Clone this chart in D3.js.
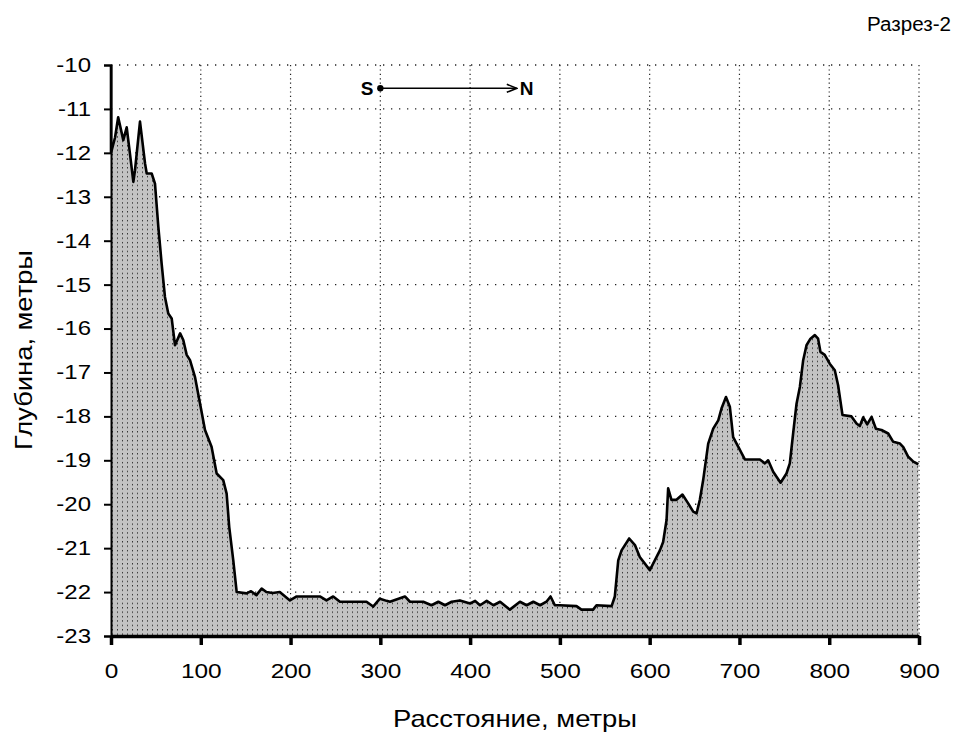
<!DOCTYPE html>
<html>
<head>
<meta charset="utf-8">
<title>Разрез-2</title>
<script src="https://cdn.jsdelivr.net/npm/d3@7"></script>
<style>
  body { margin: 0; background: #fff; }
  text { font-family: "Liberation Sans", Arial, sans-serif; }
</style>
</head>
<body>
<div id="chart"></div>
<script>
// профиль дна: [расстояние, глубина]
let southSlope = [
  [0, -10], [0, -12.0], [4.5, -11.65], [8, -11.19], [13.7, -11.71], [17.5, -11.42],
  [21, -12.0], [24.9, -12.66], [26.7, -12.4], [32.3, -11.29], [37.9, -12.24], [39.8, -12.47],
  [45.3, -12.47], [49, -12.7], [52.7, -13.68], [56.4, -14.52], [60.1, -15.28], [63.8, -15.66],
  [67.6, -15.77], [71.3, -16.38], [77, -16.11], [80.5, -16.26], [84.3, -16.6], [88, -16.72],
  [93.5, -17.1], [99.1, -17.7], [104.7, -18.31], [112, -18.69], [117.7, -19.3], [125, -19.45],
  [128.8, -19.76], [131.7, -20.52], [136.2, -21.28], [140, -22.0]
];
let flatBottom = [
  [151, -22.03], [156, -21.98], [162, -22.07], [167.8, -21.92], [173, -22.0], [180, -22.02],
  [188, -22.0], [199.3, -22.19], [206.8, -22.1], [232.7, -22.1], [240, -22.19], [247.5, -22.1],
  [255, -22.22], [284.6, -22.22], [292, -22.33], [299.5, -22.15], [307, -22.2], [310.7, -22.22],
  [327.4, -22.1], [333, -22.22], [347.8, -22.22], [357, -22.3], [364.6, -22.22], [372, -22.3],
  [379.5, -22.22], [388.6, -22.19], [400, -22.26], [405.6, -22.2], [411, -22.3], [418.5, -22.2],
  [426, -22.3], [433.4, -22.22], [440.6, -22.34], [444.3, -22.4], [455.5, -22.22], [463, -22.3],
  [470.4, -22.22], [478, -22.3], [485, -22.22], [489.6, -22.1], [494.4, -22.3], [500, -22.3],
  [518.5, -22.32], [524, -22.4], [537, -22.4], [540.8, -22.3], [557.6, -22.32]
];
let northRidge = [
  [561.2, -22.1], [565, -21.28], [568.7, -21.05], [577.2, -20.78], [583.6, -20.93], [589, -21.2],
  [600.2, -21.5], [607.7, -21.2], [611.4, -21.05], [615, -20.86], [618.8, -20.36], [620.6, -19.64],
  [624.3, -19.9], [629.9, -19.9], [636.5, -19.78], [642.9, -19.98], [648.5, -20.17], [652.2, -20.21],
  [655.9, -19.9], [659.6, -19.45], [665.2, -18.62], [670.8, -18.28], [676.4, -18.09], [680, -17.82],
  [685, -17.56], [689.3, -17.78], [693, -18.47], [698.6, -18.69], [706, -18.98], [722.7, -18.98],
  [728.3, -19.07], [732, -19.0], [737.6, -19.26], [745.8, -19.51], [752.4, -19.3], [756.1, -19.07],
  [759.8, -18.39], [763.6, -17.71], [767.3, -17.33], [771, -16.72], [774.7, -16.38], [779.1, -16.23],
  [784, -16.15], [787.6, -16.23], [790.2, -16.53], [795, -16.6], [800.6, -16.8], [806.2, -16.95],
  [809.9, -17.29], [814.8, -17.97], [824.8, -18.0], [830.4, -18.16], [834.1, -18.22], [837.9, -18.02],
  [842.3, -18.18], [847.2, -18.01], [852, -18.28], [858.2, -18.31], [865.7, -18.39], [871.3, -18.58],
  [878.8, -18.62], [882.5, -18.7], [888, -18.92], [893.7, -19.03], [899.3, -19.09]
];
let profile = southSlope.concat(flatBottom, northRidge);

let xTicks = [0, 100, 200, 300, 400, 500, 600, 700, 800, 900];
let yTicks = [-10, -11, -12, -13, -14, -15, -16, -17, -18, -19, -20, -21, -22, -23];
let arrowFrom = 300, arrowTo = 452, arrowDepth = -10.53;

let margin = {top: 65, right: 36, bottom: 100, left: 111};
let W = 955, H = 736;
let w = W - margin.left - margin.right;
let h = H - margin.top - margin.bottom;

// растянуть текст по ширине, как в исходной картинке
function widen(sel, k) {
  sel.each(function() {
    let L = this.getComputedTextLength();
    d3.select(this).attr("textLength", L * k).attr("lengthAdjust", "spacingAndGlyphs");
  });
}

let svg = d3.select("#chart").append("svg")
    .attr("width", W).attr("height", H);

// заливка с точками
let defs = svg.append("defs");
let pat = defs.append("pattern")
    .attr("id", "dots").attr("patternUnits", "userSpaceOnUse")
    .attr("width", 5).attr("height", 4.4);
pat.append("rect").attr("width", 5).attr("height", 4.4).attr("fill", "#c3c3c3");
pat.append("rect").attr("x", 1).attr("y", 1).attr("width", 1).attr("height", 1.2).attr("fill", "#1a1a1a");

let g = svg.append("g").attr("transform", "translate(" + margin.left + "," + margin.top + ")");

let x = d3.scaleLinear().domain([0, 900]).range([0, w]);
let y = d3.scaleLinear().domain([-10, -23]).range([0, h]);

// сетка
g.append("g").selectAll("line").data(yTicks.filter(d => d > -23)).enter().append("line")
    .attr("x1", 0).attr("x2", w)
    .attr("y1", d => y(d)).attr("y2", d => y(d))
    .attr("stroke", "#222").attr("stroke-width", 1.3)
    .attr("stroke-dasharray", "1.3,6.7");
g.append("g").selectAll("line").data(xTicks.filter(d => d > 0)).enter().append("line")
    .attr("x1", d => x(d)).attr("x2", d => x(d))
    .attr("y1", 0).attr("y2", h)
    .attr("stroke", "#222").attr("stroke-width", 1.2)
    .attr("stroke-dasharray", "1.2,3.2");

let area = d3.area().x(d => x(d[0])).y0(h).y1(d => y(d[1]));
let line = d3.line().x(d => x(d[0])).y(d => y(d[1]));

g.append("path").datum(profile).attr("d", area).attr("fill", "url(#dots)");
g.append("path").datum(profile).attr("d", line)
    .attr("fill", "none").attr("stroke", "#000").attr("stroke-width", 2.6)
    .attr("stroke-linejoin", "round");

// оси
let yAxis = g.append("g").call(d3.axisLeft(y).tickValues(yTicks).tickSize(7).tickPadding(13));
yAxis.select(".domain").attr("stroke-width", 2);
yAxis.selectAll(".tick line").attr("stroke-width", 2);
yAxis.selectAll("text").attr("font-size", 20).attr("fill", "#000")
    .attr("font-family", "'Liberation Sans', Arial, sans-serif")
    .text(d => "-" + Math.abs(d))
    .call(widen, 1.2);

let xAxis = g.append("g").attr("transform", "translate(0," + h + ")")
    .call(d3.axisBottom(x).tickValues(xTicks).tickSize(9).tickSizeOuter(0).tickPadding(19));
xAxis.select(".domain").attr("stroke-width", 3.5);
xAxis.selectAll(".tick line").attr("stroke-width", 3.5);
xAxis.selectAll("text").attr("font-size", 20).attr("fill", "#000")
    .attr("font-family", "'Liberation Sans', Arial, sans-serif")
    .call(widen, 1.22);

// подписи осей
svg.append("text").attr("x", 515).attr("y", 727)
    .attr("text-anchor", "middle").attr("font-size", 24)
    .attr("textLength", 244).attr("lengthAdjust", "spacingAndGlyphs")
    .text("Расстояние, метры");
svg.append("text")
    .attr("transform", "translate(32,350) rotate(-90)")
    .attr("text-anchor", "middle").attr("font-size", 24)
    .attr("textLength", 200).attr("lengthAdjust", "spacingAndGlyphs")
    .text("Глубина, метры");

svg.append("text").attr("x", 951).attr("y", 31)
    .attr("text-anchor", "end").attr("font-size", 20)
    .attr("textLength", 84).attr("lengthAdjust", "spacingAndGlyphs")
    .text("Разрез-2");

// стрелка S -> N
defs.append("marker").attr("id", "arr").attr("viewBox", "0 0 12 10")
    .attr("refX", 11).attr("refY", 5).attr("markerWidth", 12).attr("markerHeight", 10)
    .attr("markerUnits", "userSpaceOnUse").attr("orient", "auto")
    .append("path").attr("d", "M1,1 L11,5 L1,9").attr("fill", "none")
    .attr("stroke", "#000").attr("stroke-width", 1.6);
g.append("line")
    .attr("x1", x(arrowFrom)).attr("x2", x(arrowTo))
    .attr("y1", y(arrowDepth)).attr("y2", y(arrowDepth))
    .attr("stroke", "#000").attr("stroke-width", 1.6).attr("marker-end", "url(#arr)");
g.append("circle").attr("cx", x(arrowFrom)).attr("cy", y(arrowDepth)).attr("r", 3.2).attr("fill", "#000");
g.append("text").attr("x", x(arrowFrom) - 7).attr("y", y(arrowDepth) + 7)
    .attr("text-anchor", "end").attr("font-size", 19).attr("font-weight", "bold")
    .attr("font-family", "'DejaVu Sans', sans-serif").text("S");
g.append("text").attr("x", x(arrowTo) + 3).attr("y", y(arrowDepth) + 7)
    .attr("font-size", 19).attr("font-weight", "bold")
    .attr("font-family", "'DejaVu Sans', sans-serif").text("N");
</script>
</body>
</html>
